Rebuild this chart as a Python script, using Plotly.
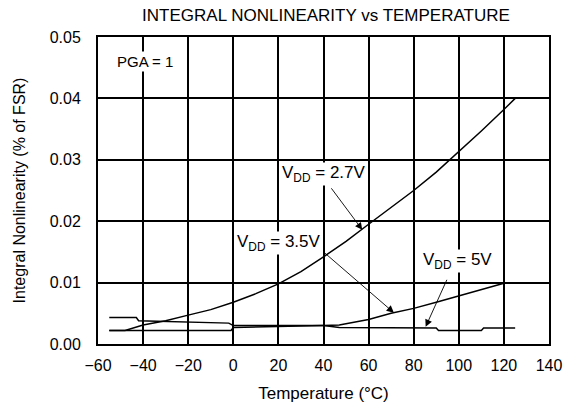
import plotly.graph_objects as go

# Temperature (°C) and INL (% of FSR)
t_27 = [-55, -48, -40, -30, -20, -10, 0, 10, 20, 30, 40, 50, 60, 70, 80, 90, 100, 110, 120, 125]
inl_27 = [0.0022, 0.0022, 0.0031, 0.0038, 0.0047, 0.0056, 0.0068, 0.0082, 0.0098, 0.0118,
          0.0142, 0.0167, 0.0195, 0.0222, 0.0250, 0.0280, 0.0313, 0.0347, 0.0382, 0.0400]

t_35 = [-55, -1, 0, 20, 40, 47, 55, 60, 70, 80, 90, 100, 110, 120]
inl_35 = [0.0022, 0.0022, 0.0027, 0.0028, 0.0030, 0.0031, 0.0037, 0.0040, 0.0050, 0.0058,
          0.0068, 0.0078, 0.0088, 0.0099]

t_5 = [-55, -43, -42, -20, -2, 0, 20, 40, 47, 90, 91, 110, 111, 125]
inl_5 = [0.0043, 0.0043, 0.0038, 0.0036, 0.0034, 0.0030, 0.0030, 0.0030, 0.0027, 0.0026,
         0.0022, 0.0022, 0.0026, 0.0026]

x_ticks = [-60, -40, -20, 0, 20, 40, 60, 80, 100, 120, 140]
y_ticks = [0.00, 0.01, 0.02, 0.03, 0.04, 0.05]

# annotation anchors (data coords): label, label pos, arrow tail, arrow head
labels = ["V<sub>DD</sub> = 2.7V", "V<sub>DD</sub> = 3.5V", "V<sub>DD</sub> = 5V"]
label_x = [40.2, 20.3, 99.6]
label_y = [0.0277, 0.0165, 0.0135]
tail_x = [43.0, 40.0, 95.0]
tail_y = [0.0256, 0.0150, 0.0107]
head_x = [57.2, 71.2, 85.3]
head_y = [0.0186, 0.0051, 0.0028]

FONT = "Liberation Sans, Arial, sans-serif"

fig = go.Figure()
for xs, ys in [(t_27, inl_27), (t_35, inl_35), (t_5, inl_5)]:
    fig.add_trace(go.Scatter(x=xs, y=ys, mode="lines",
                             line=dict(color="black", width=1.5),
                             showlegend=False, hoverinfo="skip"))

annotations = []
for i in range(len(labels)):
    annotations.append(dict(x=head_x[i], y=head_y[i], ax=tail_x[i], ay=tail_y[i],
                            xref="x", yref="y", axref="x", ayref="y",
                            text="", showarrow=True, arrowhead=2, arrowsize=1.6,
                            arrowwidth=0.9, arrowcolor="black", standoff=0, startstandoff=0))
    annotations.append(dict(x=label_x[i], y=label_y[i], xref="x", yref="y",
                            text=labels[i], showarrow=False, bgcolor="white",
                            font=dict(family=FONT, size=17, color="black"),
                            borderpad=0))
annotations.append(dict(x=-39.2, y=0.0460, xref="x", yref="y", text="PGA = 1",
                        showarrow=False, bgcolor="white", borderpad=1,
                        font=dict(family=FONT, size=15, color="black")))

fig.update_layout(
    width=563, height=407,
    margin=dict(l=98, r=14, t=37, b=63),
    paper_bgcolor="white", plot_bgcolor="white",
    font=dict(family=FONT, size=16, color="black"),
    title=dict(text="INTEGRAL NONLINEARITY vs TEMPERATURE", x=0.579, xanchor="center",
               y=0.963, yanchor="middle", font=dict(family=FONT, size=17, color="black")),
    annotations=annotations,
)
fig.update_xaxes(range=[-60, 140], tickvals=x_ticks, ticktext=[f"{v}".replace("-", "\u2212") for v in x_ticks],
                 showgrid=True, gridcolor="black", gridwidth=1.5, zeroline=False,
                 showline=True, linecolor="black", linewidth=2, mirror=True,
                 ticks="", ticklen=0, ticklabelstandoff=6, automargin=False,
                 title=dict(text="Temperature (°C)", font=dict(family=FONT, size=17), standoff=14),
                 tickfont=dict(family=FONT, size=16))
fig.update_yaxes(range=[0, 0.05], tickvals=y_ticks, ticktext=[f"{v:.2f}" for v in y_ticks],
                 showgrid=True, gridcolor="black", gridwidth=1.5, zeroline=False,
                 showline=True, linecolor="black", linewidth=2, mirror=True,
                 ticks="", ticklen=0, ticklabelstandoff=12, automargin=False,
                 title=dict(text="Integral Nonlinearity (% of FSR)", font=dict(family=FONT, size=16), standoff=20),
                 tickfont=dict(family=FONT, size=16))

fig.write_html("out.html", config={"displayModeBar": False},
               post_script="document.body.style.margin='0';document.body.style.overflow='hidden';")
